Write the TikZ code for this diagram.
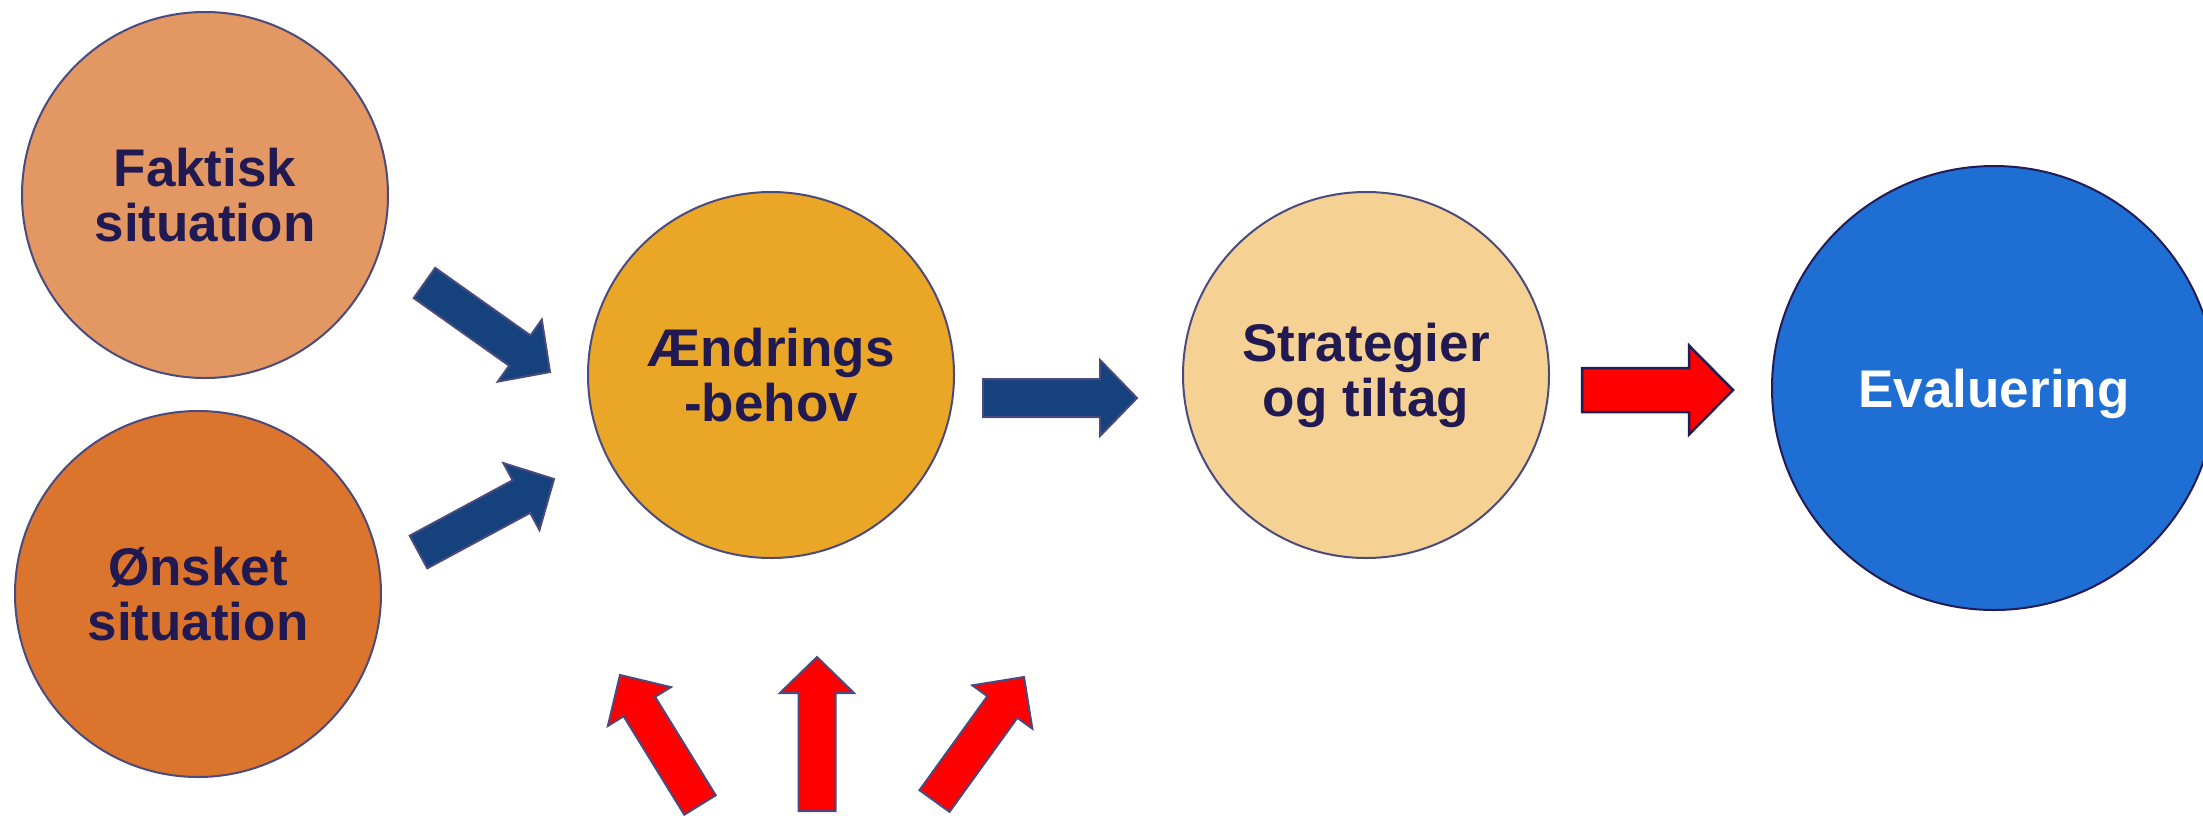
\documentclass[tikz,border=0pt]{standalone}
\usepackage{fontspec}
\setmainfont{Liberation Sans}
\usetikzlibrary{calc}
\definecolor{cFak}{HTML}{E39763}
\definecolor{cOns}{HTML}{DB742C}
\definecolor{cAend}{HTML}{EAA627}
\definecolor{cStr}{HTML}{F5D293}
\definecolor{cEva}{HTML}{1F6ED4}
\definecolor{cBlueArr}{HTML}{15427D}
\definecolor{cRed}{HTML}{FF0000}
\definecolor{cEdge}{HTML}{4B4A7E}
\definecolor{cDark}{HTML}{211C55}
\definecolor{cText}{HTML}{211A52}
% #1 name, #2 style, #3 tail, #4 tip, #5 shaft half width, #6 head half width, #7 head length
\newcommand{\blockarr}[7]{%
  \coordinate (#1-t) at #3;
  \coordinate (#1-p) at #4;
  \coordinate (#1-h) at ($(#1-p)!#7!(#1-t)$);
  \draw[#2] ($(#1-t)!#5!90:(#1-p)$) -- ($(#1-h)!#5!-90:(#1-t)$)
    -- ($(#1-h)!#6!-90:(#1-t)$) -- (#1-p) -- ($(#1-h)!#6!90:(#1-t)$)
    -- ($(#1-h)!#5!90:(#1-t)$) -- ($(#1-t)!#5!-90:(#1-p)$) -- cycle;
}
\tikzset{
  bubble/.style={circle, draw=cEdge, line width=2pt, inner sep=0pt,
    minimum size=366pt, align=center, text=cText,
    font=\bfseries\fontsize{53}{55}\selectfont},
  bluearr/.style={fill=cBlueArr, draw=cEdge, line width=2pt, line join=miter},
  redarr/.style={fill=cRed, draw=cEdge, line width=2pt, line join=miter},
  redarrdark/.style={fill=cRed, draw=cDark, line width=2.5pt, line join=miter}
}
\begin{document}
\begin{tikzpicture}[x=1pt, y=-1pt]
\useasboundingbox (0,0) rectangle (2203,815);
\clip (0,0) rectangle (2203,815);
\fill[white] (0,0) rectangle (2203,815);

\node[bubble, fill=cFak] (fak) at (205,195) {Faktisk\\situation};
\node[bubble, fill=cOns] (ons) at (198,594) {Ønsket\\situation};
\node[bubble, fill=cAend] (aend) at (771,375) {Ændrings\\-behov};
\node[bubble, fill=cStr] (str) at (1366,375) {Strategier\\og tiltag};
\node[bubble, fill=cEva, draw=cDark, minimum size=444pt, text=white, text depth=0pt] (eva) at (1994,388) {Evaluering};

\blockarr{a1}{bluearr}{(424.5,283)}{(550,372)}{18.5pt}{38pt}{37pt}
\blockarr{a2}{bluearr}{(418.5,552)}{(554,479)}{18.5pt}{38pt}{37pt}
\blockarr{a3}{bluearr}{(983,398)}{(1137,398)}{19pt}{38pt}{37pt}
\blockarr{a4}{redarrdark}{(1582,390)}{(1733,390)}{22pt}{44.5pt}{44pt}
\blockarr{b1}{redarr}{(700,805)}{(620,675)}{18.5pt}{37pt}{37pt}
\blockarr{b2}{redarr}{(817,811)}{(817,657)}{18.5pt}{37pt}{36pt}
\blockarr{b3}{redarr}{(934.5,801)}{(1024,677)}{18.5pt}{37pt}{37pt}
\end{tikzpicture}
\end{document}
